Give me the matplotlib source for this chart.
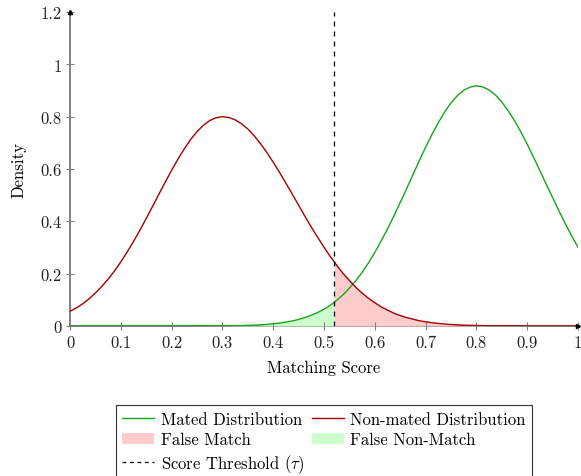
import matplotlib
matplotlib.use("Agg")
import matplotlib.pyplot as plt
from matplotlib.patches import Patch
from matplotlib.lines import Line2D

plt.rcParams['font.family'] = 'serif'
plt.rcParams['font.serif'] = ['cmr10']
plt.rcParams['mathtext.fontset'] = 'cm'
plt.rcParams['axes.formatter.use_mathtext'] = True

# Scores and densities
score = [0.0, 0.0125, 0.025, 0.0375, 0.05, 0.0625, 0.075, 0.0875,
         0.1, 0.1125, 0.125, 0.1375, 0.15, 0.1625, 0.175, 0.1875,
         0.2, 0.2125, 0.225, 0.2375, 0.25, 0.2625, 0.275, 0.2875,
         0.3, 0.3125, 0.325, 0.3375, 0.35, 0.3625, 0.375, 0.3875,
         0.4, 0.4125, 0.425, 0.4375, 0.45, 0.4625, 0.475, 0.4875,
         0.5, 0.5125, 0.52, 0.525, 0.5375, 0.55, 0.5625, 0.575, 0.5875,
         0.6, 0.6125, 0.625, 0.6375, 0.65, 0.6625, 0.675, 0.6875,
         0.7, 0.7125, 0.725, 0.7375, 0.75, 0.7625, 0.775, 0.7875,
         0.8, 0.8125, 0.825, 0.8375, 0.85, 0.8625, 0.875, 0.8875,
         0.9, 0.9125, 0.925, 0.9375, 0.95, 0.9625, 0.975, 0.9875,
         1.0]
non_mated = [0.056, 0.069, 0.085, 0.104, 0.126, 0.151, 0.179, 0.210,
             0.245, 0.283, 0.323, 0.366, 0.411, 0.457, 0.504, 0.550,
             0.595, 0.638, 0.677, 0.713, 0.743, 0.767, 0.785, 0.796,
             0.800, 0.797, 0.788, 0.773, 0.753, 0.727, 0.697, 0.663,
             0.626, 0.587, 0.546, 0.504, 0.462, 0.419, 0.378, 0.339,
             0.301, 0.265, 0.246, 0.232, 0.201, 0.174, 0.148, 0.126, 0.106,
             0.089, 0.073, 0.061, 0.049, 0.040, 0.032, 0.026, 0.020,
             0.016, 0.0125, 0.0097, 0.0074, 0.0057, 0.0043, 0.0032, 0.0024,
             0.0018, 0.0013, 0.0009, 0.0007, 0.0005, 0.0003, 0.0002, 0.0002,
             0.0001, 0.0001, 0.0, 0.0, 0.0, 0.0, 0.0, 0.0,
             0.0]
mated = [0.0, 0.0, 0.0, 0.0, 0.0, 0.0, 0.0, 0.0,
         0.0, 0.0, 0.0, 0.0, 0.0, 0.0, 0.0, 0.0,
         0.00002, 0.00003, 0.00005, 0.00008, 0.0001, 0.0002, 0.0003, 0.0004,
         0.0006, 0.0008, 0.0012, 0.0016, 0.0023, 0.0032, 0.0044, 0.0060,
         0.0085, 0.0112, 0.0148, 0.0192, 0.0250, 0.0322, 0.0408, 0.0515,
         0.064, 0.0795, 0.090, 0.098, 0.119, 0.1446, 0.173, 0.205, 0.241,
         0.281, 0.325, 0.371, 0.420, 0.472, 0.524, 0.578, 0.631,
         0.683, 0.732, 0.777, 0.818, 0.853, 0.880, 0.901, 0.913,
         0.918, 0.914, 0.902, 0.883, 0.856, 0.823, 0.785, 0.742,
         0.695, 0.645, 0.594, 0.542, 0.491, 0.440, 0.391, 0.345,
         0.301]
threshold = 0.52

green = '#18a318'
red = '#a30000'
fs = 12

fig = plt.figure(figsize=(5.81, 4.77), dpi=100)
ax = fig.add_axes([0.1205, 0.3145, 0.8743, 0.6582])

below = [s <= threshold for s in score]
above = [s >= threshold for s in score]

# shaded error regions
ax.fill_between(score, 0, non_mated, where=above, color='#ffcccc', lw=0)
ax.fill_between(score, 0, mated, where=below, color='#ccffcc', lw=0)

ax.plot(score, mated, color=green, lw=1.0)
ax.plot(score, non_mated, color=red, lw=1.0)
ax.plot([threshold, threshold], [0, 1.2], color='black', lw=0.9, ls=(0, (4, 4)))

ax.set_xlim(0, 1)
ax.set_ylim(0, 1.2)
ax.set_xticks([0, 0.1, 0.2, 0.3, 0.4, 0.5, 0.6, 0.7, 0.8, 0.9, 1])
ax.set_xticklabels(['0', '0.1', '0.2', '0.3', '0.4', '0.5', '0.6', '0.7', '0.8', '0.9', '1'])
ax.set_yticks([0, 0.2, 0.4, 0.6, 0.8, 1, 1.2])
ax.set_yticklabels(['0', '0.2', '0.4', '0.6', '0.8', '1', '1.2'])
ax.tick_params(direction='inout', length=6, width=0.8, color='#808080',
               labelsize=fs, labelcolor='#222222', pad=3)

for side in ['top', 'right']:
    ax.spines[side].set_visible(False)
for side in ['left', 'bottom']:
    ax.spines[side].set_color('#808080')
    ax.spines[side].set_linewidth(1.4)
    ax.spines[side].set_zorder(0.5)

# axis arrow tips
ax.plot(1, 0, '>', color='black', ms=3, transform=ax.get_yaxis_transform(), clip_on=False)
ax.plot(0, 1, '^', color='black', ms=3, transform=ax.get_xaxis_transform(), clip_on=False)

ax.set_xlabel('Matching Score', fontsize=fs, labelpad=7)
ax.set_ylabel('Density', fontsize=fs, labelpad=10)

handles = [Line2D([], [], color=green, lw=1.0),
           Patch(facecolor='#ffcccc', edgecolor='none'),
           Line2D([], [], color='black', lw=0.9, ls=(0, (3, 3))),
           Line2D([], [], color=red, lw=1.0),
           Patch(facecolor='#ccffcc', edgecolor='none')]
labels = ['Mated Distribution', 'False Match', r'Score Threshold ($\tau$)',
          'Non-mated Distribution', 'False Non-Match']
leg = ax.legend(handles, labels, ncol=2, loc='upper center', bbox_to_anchor=(0.5, -0.225),
                fontsize=fs, frameon=True, fancybox=False, edgecolor='black',
                handlelength=1.9, handletextpad=0.4, columnspacing=0.45,
                labelspacing=0.3, borderpad=0.4)
leg.get_frame().set_linewidth(0.8)

fig.savefig('out.png', dpi=100)
